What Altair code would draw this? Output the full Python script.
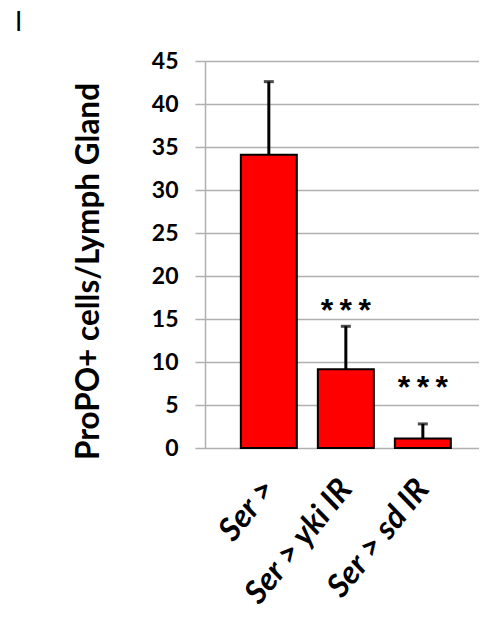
import altair as alt
import pandas as pd

categories = ["Ser >", "Ser > yki IR", "Ser > sd IR"]
means = [34.1, 9.15, 1.1]
errors = [8.5, 5.0, 1.7]
stars = ["", "*\u2009*\u2009*", "*\u2009*\u2009*"]
star_y = [0, 14.8, 5.8]
y_ticks = [0, 5, 10, 15, 20, 25, 30, 35, 40, 45]

df = pd.DataFrame({
    "cat": categories,
    "mean": means,
    "top": [m + e for m, e in zip(means, errors)],
    "star": stars,
    "star_y": star_y,
})

FONT = "Lato"

x_enc = alt.X(
    "cat:N",
    sort=categories,
    scale=alt.Scale(paddingInner=0.273, paddingOuter=0.4155, align=0.56),
    axis=alt.Axis(
        title=None, labelAngle=-51, labelFontSize=32, labelFontWeight="bold",
        labelFontStyle="italic", labelFont=FONT, labelColor="black",
        ticks=False, domain=False, labelPadding=35, labelAlign="right",
        labelBaseline="middle", labelLimit=400,
    ),
)

y_scale = alt.Scale(domain=[0, 45], nice=False)

bars = alt.Chart(df).mark_bar(color="#ff0000", stroke="black", strokeWidth=2).encode(
    x=x_enc,
    y=alt.Y(
        "mean:Q", scale=y_scale,
        axis=alt.Axis(
            values=y_ticks, title="ProPO+ cells/Lymph Gland", titleFontSize=31.5,
            titleFont=FONT, titleFontWeight="bold", titleColor="black",
            titlePadding=46, titleY=210, labelFontSize=23, labelFont=FONT,
            labelFontWeight="bold", labelColor="black", labelPadding=17,
            tickSize=10, tickColor="#b0b0b0", domainColor="#b0b0b0",
            gridColor="#b0b0b0", gridWidth=1.5, tickWidth=1.5, domainWidth=1.5,
        ),
    ),
)

rules = alt.Chart(df).mark_rule(color="black", strokeWidth=3).encode(
    x=alt.X("cat:N", sort=categories),
    y="mean:Q",
    y2="top:Q",
)

caps = alt.Chart(df).mark_tick(color="black", thickness=3, size=10).encode(
    x=alt.X("cat:N", sort=categories),
    y="top:Q",
)

star_text = alt.Chart(df).mark_text(
    font="Liberation Sans", fontSize=32, fontWeight="bold", color="black",
    baseline="alphabetic",
).encode(
    x=alt.X("cat:N", sort=categories),
    y="star_y:Q",
    text="star:N",
)

panel = alt.Chart(pd.DataFrame({"t": ["I"]})).mark_text(
    font=FONT, fontSize=26, color="black", align="left", baseline="middle",
).encode(
    x=alt.value(-190), y=alt.value(-38), text="t:N",
)

chart = alt.layer(bars, rules, caps, star_text, panel).properties(
    width=274, height=387,
    padding={"left": 7, "top": 2, "right": 0, "bottom": 0},
).configure_view(stroke=None).configure(background="white")

chart.save("out.html", embed_options={"renderer": "svg", "actions": False})
